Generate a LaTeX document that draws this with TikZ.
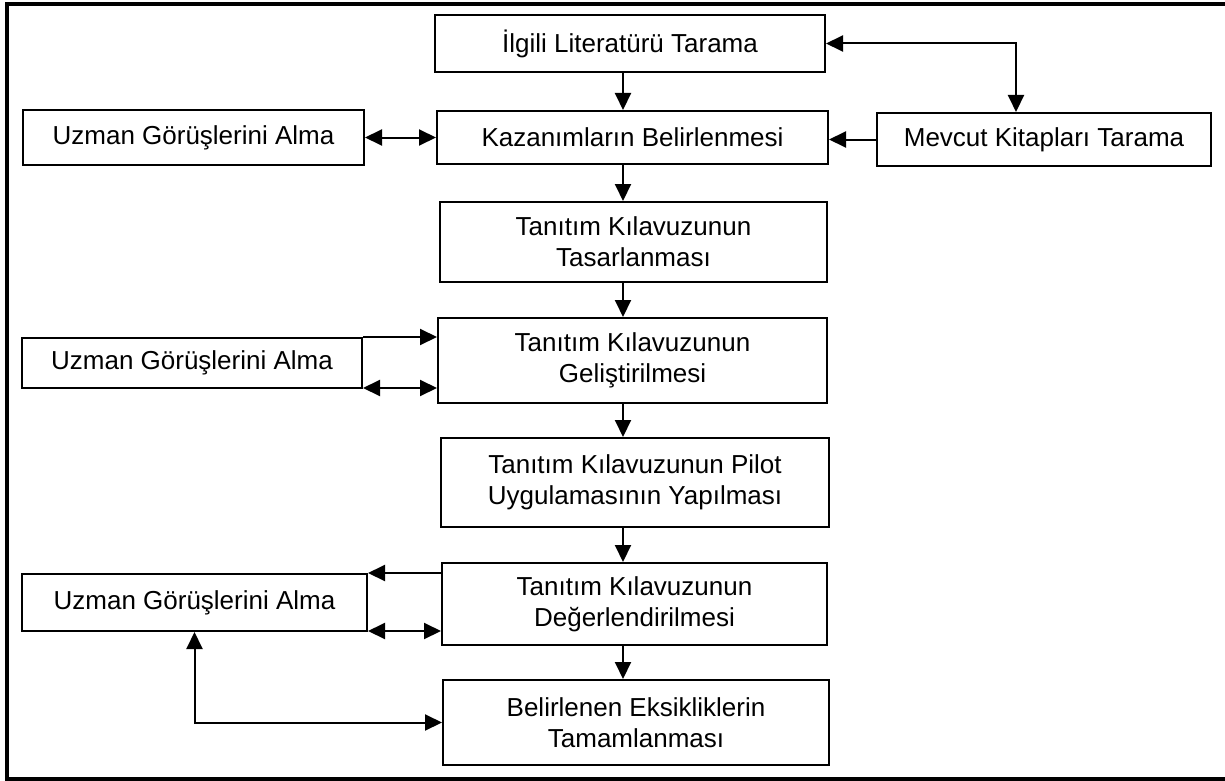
\documentclass[tikz,border=0pt]{standalone}
\usepackage{fontspec}
\setmainfont{Liberation Sans}
\usetikzlibrary{arrows.meta}
\begin{document}
\begin{tikzpicture}[x=1pt,y=-1pt,
  box/.style={draw,line width=2pt,align=center,inner sep=0pt,
    font=\fontsize{26}{31}\selectfont},
  arr/.style={line width=2pt,-{Triangle[length=17pt,width=16pt]}},
  darr/.style={line width=2pt,{Triangle[length=17pt,width=16pt]}-{Triangle[length=17pt,width=16pt]}}]
\useasboundingbox (0,0) rectangle (1225,781);
\draw[line width=4pt] (1232,4) -- (7,4) -- (7,779) -- (1232,779);
\node[box,minimum width=390pt,minimum height=57pt] (b1) at (630,43.5) {İlgili Literatürü Tarama};
\node[box,minimum width=391pt,minimum height=53pt] (b2) at (632.5,137.5) {Kazanımların Belirlenmesi};
\node[box,minimum width=341pt,minimum height=55pt] (u1) at (193.5,137.5) {Uzman Görüşlerini Alma};
\node[box,minimum width=334pt,minimum height=53pt] (mk) at (1044,139.5) {Mevcut Kitapları Tarama};
\node[box,minimum width=387pt,minimum height=80pt] (b3) at (633.5,242) {Tanıtım Kılavuzunun\\Tasarlanması};
\node[box,minimum width=389pt,minimum height=85pt] (b4) at (632.5,360.5) {Tanıtım Kılavuzunun\\Geliştirilmesi};
\node[box,minimum width=340pt,minimum height=50pt] (u2) at (192,363) {Uzman Görüşlerini Alma};
\node[box,minimum width=388pt,minimum height=89pt] (b5) at (635,482.5) {Tanıtım Kılavuzunun Pilot\\Uygulamasının Yapılması};
\node[box,minimum width=385pt,minimum height=82pt] (b6) at (634.5,604) {Tanıtım Kılavuzunun\\Değerlendirilmesi};
\node[box,minimum width=345pt,minimum height=57pt] (u3) at (194.5,602.5) {Uzman Görüşlerini Alma};
\node[box,minimum width=386pt,minimum height=85pt] (b7) at (636,722.5) {Belirlenen Eksikliklerin\\Tamamlanması};
\coordinate (cx) at (623,0);
\coordinate (kx) at (1016,0);
\draw[arr] (b1.south -| cx) -- (b2.north -| cx);
\draw[arr] (b2.south -| cx) -- (b3.north -| cx);
\draw[arr] (b3.south -| cx) -- (b4.north -| cx);
\draw[arr] (b4.south -| cx) -- (b5.north -| cx);
\draw[arr] (b5.south -| cx) -- (b6.north -| cx);
\draw[arr] (b6.south -| cx) -- (b7.north -| cx);
\draw[darr] (b1.east) -| (mk.north -| kx);
\draw[darr] (u1.east) -- (b2.west);
\draw[arr] (mk.west) -- (mk.west -| b2.east);
\draw[arr] (u2.north east) -- (u2.north east -| b4.west);
\draw[darr] ([yshift=1pt]u2.south east) -- ([yshift=1pt]u2.south east -| b4.west);
\draw[arr] (u3.north east -| b6.west) -- (u3.north east);
\draw[darr] ([yshift=1pt]u3.south east) -- ([yshift=1pt]u3.south east -| b6.west);
\draw[darr] (u3.south) |- (b7.west);
\end{tikzpicture}
\end{document}
